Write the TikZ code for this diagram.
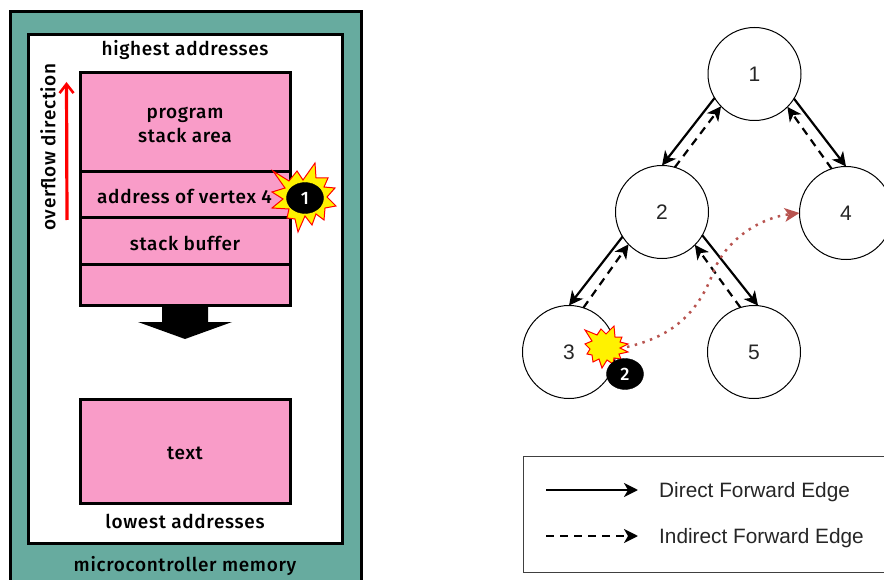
\documentclass[tikz,border=0pt]{standalone}
\usepackage{fontspec}
\setmainfont{Liberation Sans}
\newfontfamily\dinfont{Fira Sans}[BoldFont={Fira Sans Medium},UprightFont={Fira Sans Medium},LetterSpace=3.5]
\usetikzlibrary{arrows.meta,shapes.geometric}
\definecolor{teal1}{HTML}{67AB9F}
\definecolor{pink1}{HTML}{F99CC8}
\definecolor{dotred}{HTML}{B85450}
\tikzset{
  mem/.style={draw=black,line width=3pt,fill=pink1,inner sep=0pt,outer sep=0pt},
  lbl/.style={font=\dinfont\fontsize{19}{24}\selectfont,inner sep=0pt,align=center,text=black},
  vertex/.style={circle,draw=black,line width=1pt,fill=white,minimum size=93pt,inner sep=0pt,outer sep=0pt,font=\fontsize{21}{24}\selectfont,text=black!85},
  solidedge/.style={line width=2.2pt,-{Stealth[length=14pt,width=14pt,inset=4pt]}},
  dashedge/.style={line width=2.2pt,dash pattern=on 8pt off 6pt,-{Stealth[length=14pt,width=14pt,inset=4pt]}},
  blast/.style={draw=red,line width=1pt,fill=yellow,line join=miter},
  badge/.style={ellipse,fill=black,draw=black,minimum width=37pt,minimum height=31pt,inner sep=0pt,text=white,font=\dinfont\fontsize{18}{20}\selectfont},
  legendtext/.style={anchor=west,inner sep=0pt,font=\fontsize{20.8}{24}\selectfont,text=black!85},
}
\begin{document}
\begin{tikzpicture}[x=1pt,y=-1pt]
\useasboundingbox (0,0) rectangle (884,580);
% memory panel
\begin{scope}
\clip (0,0) rectangle (884,580);
\draw[line width=3pt,fill=teal1] (10,12) rectangle (361,600);
\end{scope}
\draw[line width=3pt,fill=white] (28,35) rectangle (342,543);
\node[lbl] (hi) at (185,50.5) {highest addresses};
\node[lbl] (lo) at (185,521.5) {lowest addresses};
\node[lbl] (mc) at (185,565.5) {microcontroller memory};
\node[mem,minimum width=210pt,minimum height=99pt,lbl] (prog) at (185.2,122.5) {};
\node[lbl] (progt) at (185,124.5) {program\\[0pt]stack area};
\node[mem,minimum width=210pt,minimum height=46pt] (addr) at (185.2,195) {};
\node[lbl,anchor=west] (addrt) at (97,196.5) {address of vertex 4};
\node[mem,minimum width=210pt,minimum height=47pt] (buf) at (185.2,241.5) {};
\node[lbl] (buft) at (185,243) {stack buffer};
\node[mem,minimum width=210pt,minimum height=104pt] (text) at (185.2,451.5) {};
\node[mem,minimum width=210pt,minimum height=40pt] (free) at (185.2,285) {};
\node[lbl] (textt) at (185,453) {text};
\fill (162,305) -- (208,305) -- (208,322) -- (232,322) -- (185,339) -- (138,322) -- (162,322) -- cycle;
\coordinate (rs) at (67,220);
\coordinate (re) at (66.5,82);
\draw[red,line width=3.2pt,-{Straight Barb[length=9pt,width=14pt,line width=2.6pt]}] (rs) -- (re);
\node[lbl,rotate=90] (ov) at (48,147) {overflow direction};
% blast 1
\draw[blast] (273,171) -- (289,181) -- (297,171) -- (303,180) -- (315,163) -- (316,178) -- (328,178) -- (324,187) -- (335,188) -- (327,197) -- (336,206) -- (325,208) -- (324,220) -- (316,214) -- (312,225) -- (305,216) -- (298,232) -- (295,219) -- (287,218) -- (289,209) -- (272,208) -- (283,199) -- (272,192) -- (285,188) -- cycle;
\node[badge] (b1) at (305,198) {1};
% graph
\node[vertex] (n1) at (754.5,74) {1};
\node[vertex] (n2) at (662,212) {2};
\node[vertex] (n4) at (846,213) {4};
\node[vertex] (n3) at (569,352) {3};
\node[vertex] (n5) at (754,352) {5};
\draw[solidedge] (n1.211) -- (n2.90);
\draw[dashedge] (n2.74) -- (n1.224);
\draw[solidedge] (n1.-32) -- (n4.90);
\draw[dashedge] (n4.108) -- (n1.-45);
\draw[solidedge] (n2.212) -- (n3.90);
\draw[dashedge] (n3.72) -- (n2.224);
\draw[solidedge] (n2.-30) -- (n5.85);
\draw[dashedge] (n5.107) -- (n2.-45);
% blast 2
\draw[blast] (585,330) -- (597,335) -- (601,329) -- (606,334) -- (614,326) -- (615,337) -- (622,337) -- (620,342) -- (628,344) -- (620,348) -- (628,352) -- (619,354) -- (621,359) -- (614,358) -- (613,364) -- (607,360) -- (602,368) -- (599,359) -- (593,362) -- (592,355) -- (587,354) -- (590,349) -- (585,344) -- (592,341) -- cycle;
\coordinate (bs) at (627,347);
\coordinate (bm) at (713,273);
\draw[dotred,line width=2.5pt,dash pattern=on 2.5pt off 5.5pt,-{Stealth[length=15pt,width=14pt,inset=4pt,line width=0pt,fill=dotred]}] (bs) .. controls (665,338) and (695,320) .. (bm) .. controls (725,240) and (760,218) .. (n4.west);
\node[badge] (b2) at (625,374) {2};
% legend
\node[draw=black!75,line width=1pt,minimum width=361pt,minimum height=116pt,inner sep=0pt] (leg) at (703.5,514) {};
\coordinate (l1a) at (546,490);
\coordinate (l1b) at (638,490);
\coordinate (l2a) at (546,536);
\coordinate (l2b) at (638,536);
\draw[solidedge] (l1a) -- (l1b);
\draw[dashedge] (l2a) -- (l2b);
\node[legendtext] (t1) at (659,492) {Direct Forward Edge};
\node[legendtext] (t2) at (659,538) {Indirect Forward Edge};
\end{tikzpicture}
\end{document}
